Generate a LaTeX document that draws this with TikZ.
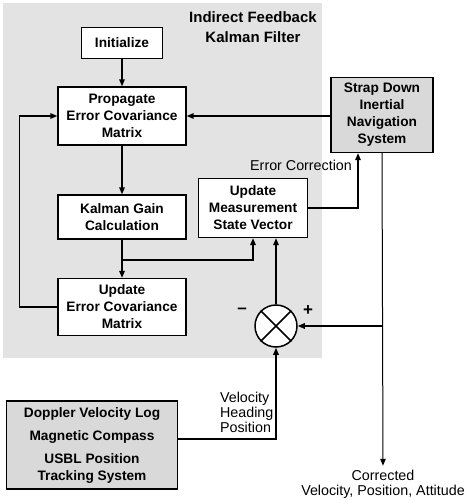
\documentclass[tikz,border=0pt]{standalone}
\usepackage{fontspec}
\setmainfont{Liberation Sans}
\usetikzlibrary{arrows.meta,positioning}

\begin{document}
\begin{tikzpicture}[x=1pt,y=-1pt,>={Triangle[length=7pt,width=5.5pt]},
        line width=1.5pt,
        block/.style={draw,fill=white,align=center,inner sep=0pt,line width=1.3pt,
          font=\bfseries\fontsize{13.7}{17}\selectfont},
        shaded block/.style={block,fill=gray!30},
        plain text/.style={align=center,font=\fontsize{14.3}{15}\selectfont}]
    \useasboundingbox (0,0) rectangle (471,500);
    \fill[gray!22] (3,3) rectangle (322,358);

    \node[block, minimum width=81pt, minimum height=31pt] (init) at (122,43) {Initialize};
    \node[block, minimum width=128pt, minimum height=58pt] (prop) at (122,116) {Propagate\\Error Covariance\\Matrix};
    \node[block, minimum width=128pt, minimum height=44pt] (gain) at (122,217) {Kalman Gain\\Calculation};
    \node[block, minimum width=128pt, minimum height=57pt] (uec) at (122,307) {Update\\Error Covariance\\Matrix};
    \node[block, minimum width=109pt, minimum height=59pt] (upd) at (253,208) {Update\\Measurement\\State Vector};
    \node[shaded block, minimum width=102pt, minimum height=75pt] (sdins) at (382,115) {Strap Down\\Inertial\\Navigation\\System};
    \node[shaded block, minimum width=171pt, minimum height=88pt,
          font=\bfseries\fontsize{13.7}{23}\selectfont] (sensors) at (92,445)
          {Doppler Velocity Log\\Magnetic Compass\\USBL Position\\[-6pt]Tracking System};
    \node[circle, draw, fill=white, minimum size=42pt, inner sep=0pt] (sum) at (276,326) {};
    \draw (sum.north west) -- (sum.south east) (sum.north east) -- (sum.south west);

    \node[font=\bfseries\fontsize{15}{20}\selectfont, align=center] (title) at (253,27) {Indirect Feedback\\Kalman Filter};
    \node[plain text, anchor=east] (errcorr) at (356,165) {Error Correction};
    \node[plain text, align=left, anchor=west] (meas) at (216,412) {Velocity\\Heading\\Position};
    \node[plain text] (out) at (383,484) {Corrected\\Velocity, Position, Attitude};
    \node[font=\bfseries\fontsize{17}{17}\selectfont] (minus) at (242,311) {--};
    \node[font=\bfseries\fontsize{17}{17}\selectfont] (plus) at (308,311) {+};

    \coordinate (kbr) at (gain.south |- 0,260);
    \coordinate (cbr) at (sdins.south |- sum.east);

    % filter loop
    \draw[->] (init) -- (prop);
    \draw[->] (prop) -- (gain);
    \draw[->] (gain) -- (uec);
    \draw[->] (kbr) -| (upd.south);
    \draw[->] (uec.west) -- ++(-38,0) |- (prop.west);
    \draw[->] (sdins.west |- prop.east) -- (prop.east);
    \draw[->] (upd.east) -| ([xshift=-24pt]sdins.south);

    % measurements
    \draw[->] (sum.north) -- (sum.north |- upd.south);
    \draw[->] ([yshift=6pt]sensors.east) -| (sum.south);
    \draw[->] (cbr) -- (sum.east);
    \draw[->, line width=1pt] (sdins.south) -- (out.north);
\end{tikzpicture}
\end{document}
